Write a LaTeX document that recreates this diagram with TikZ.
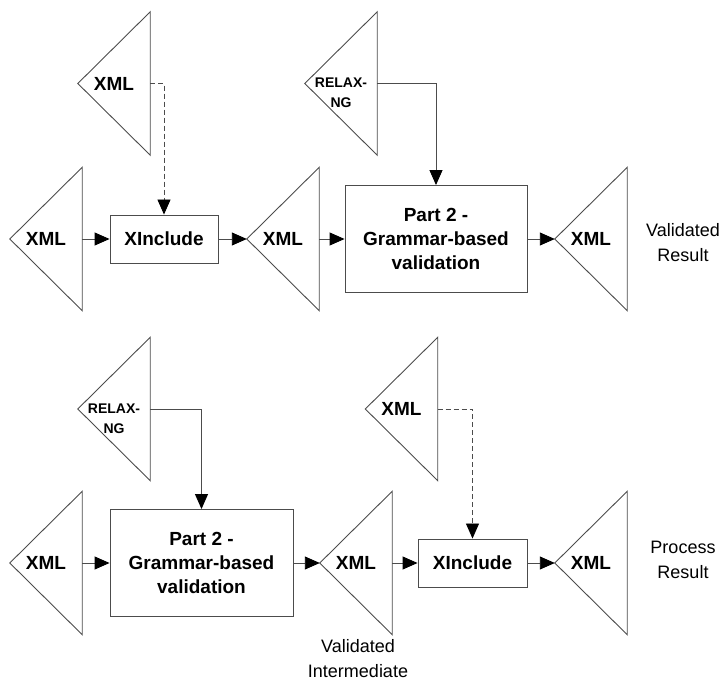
\documentclass[tikz,border=0pt]{standalone}
\usepackage{fontspec}
\setmainfont{Liberation Sans}
\usetikzlibrary{arrows.meta}
\tikzset{
  line/.style={draw=black!70, line width=0.9pt},
  tri/.style={minimum width=72pt, minimum height=143pt, inner sep=0pt,
    font=\fontsize{19}{23}\selectfont\bfseries},
  relax/.style={tri, font=\fontsize{14}{20}\selectfont\bfseries, align=center},
  proc/.style={line, rectangle, inner sep=0pt, align=center,
    font=\fontsize{19}{24}\selectfont\bfseries},
  flow/.style={line, -{Triangle[length=15pt,width=13pt,fill=black,color=black]}},
  dflow/.style={flow, dash pattern=on 5pt off 3pt},
  note/.style={align=center, font=\fontsize{18}{25}\selectfont}
}
\begin{document}
\begin{tikzpicture}[x=1pt,y=-1pt]
\useasboundingbox (0,0) rectangle (721,684);
% top row
\node[tri] (tA) at (46,239) {XML};
\node[proc, minimum width=108pt, minimum height=48pt] (xi1) at (164,239) {XInclude};
\node[tri] (tB) at (283,239) {XML};
\node[proc, minimum width=182pt, minimum height=107pt] (p1) at (436,239) {Part 2 -\\Grammar-based\\validation};
\node[tri] (tC) at (591,239) {XML};
\node[tri] (s1) at (114,83.5) {XML};
\node[tri] (r1) at (341,83.5) {};
\node[relax, minimum width=0pt, minimum height=0pt] (r1t) at (341,93) {RELAX-\\NG};
\node[note] (n1) at (683,243) {Validated\\Result};
% bottom row
\node[tri] (tD) at (46,563) {XML};
\node[proc, minimum width=183pt, minimum height=107pt] (p2) at (201.5,563) {Part 2 -\\Grammar-based\\validation};
\node[tri] (tE) at (356,563) {XML};
\node[proc, minimum width=109pt, minimum height=48pt] (xi2) at (472.5,563) {XInclude};
\node[tri] (tF) at (591,563) {XML};
\node[tri] (r2) at (114,409) {};
\node[relax, minimum width=0pt, minimum height=0pt] (r2t) at (114,419) {RELAX-\\NG};
\node[tri] (s2) at (401.5,409) {XML};
\node[note] (n2) at (683,560) {Process\\Result};
\node[note] (n3) at (358,659) {Validated\\Intermediate};
% triangles
\foreach \n in {tA,tB,tC,s1,r1,tD,tE,tF,r2,s2}
  \draw[line, line join=miter] (\n.west) -- (\n.north east) -- (\n.south east) -- cycle;
% connectors top
\draw[flow] (tA.east) -- (xi1.west);
\draw[flow] (xi1.east) -- (tB.west);
\draw[flow] (tB.east) -- (p1.west);
\draw[flow] (p1.east) -- (tC.west);
\draw[dflow] (s1.east) -| (xi1.north);
\draw[flow] (r1.east) -| (p1.north);
% connectors bottom
\draw[flow] (tD.east) -- (p2.west);
\draw[flow] (p2.east) -- (tE.west);
\draw[flow] (tE.east) -- (xi2.west);
\draw[flow] (xi2.east) -- (tF.west);
\draw[flow] (r2.east) -| (p2.north);
\draw[dflow] (s2.east) -| (xi2.north);
\end{tikzpicture}
\end{document}
